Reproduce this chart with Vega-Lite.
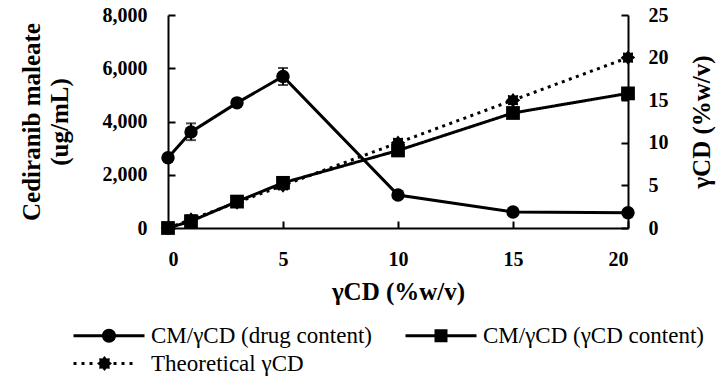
{
  "$schema": "https://vega.github.io/schema/vega-lite/v6.json",
  "width": 460,
  "height": 213,
  "autosize": {"type": "none"},
  "padding": {"left": 168, "top": 15, "right": 96, "bottom": 159},
  "background": "white",
  "config": {
    "view": {"stroke": null},
    "font": "Liberation Serif",
    "axis": {
      "grid": false,
      "domainColor": "black",
      "domainWidth": 2,
      "tickColor": "black",
      "tickWidth": 2,
      "tickSize": -7,
      "labelFont": "Liberation Serif",
      "labelFontWeight": "bold",
      "labelFontSize": 20,
      "labelColor": "black",
      "titleFont": "Liberation Serif",
      "titleFontWeight": "bold",
      "titleFontSize": 25,
      "titleColor": "black"
    },
    "legend": {
      "labelFont": "Liberation Serif",
      "labelFontSize": 23,
      "labelColor": "black",
      "labelLimit": 400
    }
  },
  "data": {
    "values": [
      {"x": 0, "series": "CM/γCD (drug content)", "value": 2640, "lo": 2560, "hi": 2720},
      {"x": 1, "series": "CM/γCD (drug content)", "value": 3610, "lo": 3300, "hi": 3930},
      {"x": 3, "series": "CM/γCD (drug content)", "value": 4700, "lo": 4620, "hi": 4780},
      {"x": 5, "series": "CM/γCD (drug content)", "value": 5690, "lo": 5370, "hi": 6010},
      {"x": 10, "series": "CM/γCD (drug content)", "value": 1240, "lo": 1180, "hi": 1300},
      {"x": 15, "series": "CM/γCD (drug content)", "value": 600, "lo": 560, "hi": 640},
      {"x": 20, "series": "CM/γCD (drug content)", "value": 570, "lo": 530, "hi": 610},
      {"x": 0, "series": "CM/γCD (γCD content)", "value": 0},
      {"x": 1, "series": "CM/γCD (γCD content)", "value": 0.8},
      {"x": 3, "series": "CM/γCD (γCD content)", "value": 3.1},
      {"x": 5, "series": "CM/γCD (γCD content)", "value": 5.3},
      {"x": 10, "series": "CM/γCD (γCD content)", "value": 9.1},
      {"x": 15, "series": "CM/γCD (γCD content)", "value": 13.5},
      {"x": 20, "series": "CM/γCD (γCD content)", "value": 15.8},
      {"x": 0, "series": "Theoretical γCD", "value": 0},
      {"x": 1, "series": "Theoretical γCD", "value": 1},
      {"x": 3, "series": "Theoretical γCD", "value": 3},
      {"x": 5, "series": "Theoretical γCD", "value": 5},
      {"x": 10, "series": "Theoretical γCD", "value": 10},
      {"x": 15, "series": "Theoretical γCD", "value": 15},
      {"x": 20, "series": "Theoretical γCD", "value": 20}
    ]
  },
  "encoding": {
    "x": {
      "field": "x",
      "type": "quantitative",
      "scale": {"domain": [0, 20], "nice": false},
      "axis": {"values": [0, 5, 10, 15, 20], "title": "γCD (%w/v)", "labelPadding": 28, "titlePadding": 10}
    }
  },
  "layer": [
    {
      "transform": [{"filter": "datum.series === 'CM/γCD (drug content)'"}],
      "encoding": {
        "y": {
          "field": "value",
          "type": "quantitative",
          "scale": {"domain": [0, 8000], "nice": false},
          "axis": {
            "orient": "left",
            "values": [0, 2000, 4000, 6000, 8000],
            "labelExpr": "format(datum.value, ',')",
            "labelPadding": 28,
            "titlePadding": 30,
            "titleLineHeight": 28,
            "title": ["Cediranib maleate", "(ug/mL)"]
          }
        }
      },
      "layer": [
        {
          "mark": {"type": "line", "color": "black", "strokeWidth": 3, "strokeCap": "round"}
        },
        {
          "mark": {"type": "errorbar", "color": "black", "ticks": {"size": 10, "thickness": 2}, "rule": {"strokeWidth": 2}},
          "encoding": {
            "y": {
              "field": "lo",
              "type": "quantitative",
              "title": ["Cediranib maleate", "(ug/mL)"]
            },
            "y2": {"field": "hi"}
          }
        },
        {
          "mark": {"type": "point", "shape": "circle", "filled": true, "color": "black", "opacity": 1, "size": 180}
        },
        {
          "mark": {"type": "point", "filled": true, "color": "black", "opacity": 0},
          "encoding": {
            "shape": {
              "field": "series",
              "type": "nominal",
              "scale": {
                "domain": ["CM/γCD (drug content)", "CM/γCD (γCD content)", "Theoretical γCD"],
                "range": [
                  "M-1,-0.15H1.9V0.15H-1Z M3.2,-0.15H6.1V0.15H3.2Z M1.85,0A0.7,0.7 0 1,1 3.25,0A0.7,0.7 0 1,1 1.85,0Z",
                  "M-1,-0.15H1.95V0.15H-1Z M3.15,-0.15H6.1V0.15H3.15Z M1.9,-0.65H3.2V0.65H1.9Z",
                  "M-1,-0.15h0.3v0.3h-0.3Z M-0.2,-0.15h0.3v0.3h-0.3Z M0.6,-0.15h0.3v0.3h-0.3Z M3.0,-0.15h0.3v0.3h-0.3Z M3.8,-0.15h0.3v0.3h-0.3Z M4.6,-0.15h0.3v0.3h-0.3Z M2.85,0L2.599,0.207L2.63,0.53L2.307,0.499L2.1,0.75L1.893,0.499L1.57,0.53L1.601,0.207L1.35,0L1.601,-0.207L1.57,-0.53L1.893,-0.499L2.1,-0.75L2.307,-0.499L2.63,-0.53L2.599,-0.207Z"
                ]
              },
              "legend": {
                "title": null,
                "orient": "none",
                "direction": "horizontal",
                "legendX": -96,
                "legendY": 309,
                "columns": 2,
                "columnPadding": 32,
                "rowPadding": 4,
                "padding": 0,
                "symbolSize": 400,
                "symbolOpacity": 1,
                "symbolFillColor": "black",
                "symbolStrokeWidth": 0,
                "labelOffset": 56
              }
            }
          }
        }
      ]
    },
    {
      "transform": [{"filter": "datum.series !== 'CM/γCD (drug content)'"}],
      "encoding": {
        "y": {
          "field": "value",
          "type": "quantitative",
          "scale": {"domain": [0, 25], "nice": false},
          "axis": {
            "orient": "right",
            "values": [0, 5, 10, 15, 20, 25],
            "labelPadding": 27,
            "titlePadding": 46,
            "titleAngle": 270,
            "title": "γCD (%w/v)"
          }
        }
      },
      "layer": [
        {
          "mark": {"type": "line", "color": "black", "strokeWidth": 3, "strokeCap": "butt"},
          "encoding": {
            "strokeDash": {
              "field": "series",
              "type": "nominal",
              "scale": {
                "domain": ["CM/γCD (γCD content)", "Theoretical γCD"],
                "range": [[1, 0], [3, 4.5]]
              },
              "legend": null
            }
          }
        },
        {
          "transform": [{"filter": "datum.series === 'Theoretical γCD'"}],
          "mark": {
            "type": "point",
            "filled": true,
            "color": "black",
            "opacity": 1,
            "size": 210,
            "shape": "M1,0L0.665,0.276L0.707,0.707L0.276,0.665L0,1L-0.276,0.665L-0.707,0.707L-0.665,0.276L-1,0L-0.665,-0.276L-0.707,-0.707L-0.276,-0.665L0,-1L0.276,-0.665L0.707,-0.707L0.665,-0.276Z"
          }
        },
        {
          "transform": [{"filter": "datum.series === 'CM/γCD (γCD content)'"}],
          "mark": {"type": "point", "filled": true, "color": "black", "opacity": 1, "size": 190, "shape": "square"}
        }
      ]
    }
  ],
  "resolve": {"scale": {"y": "independent"}}
}
